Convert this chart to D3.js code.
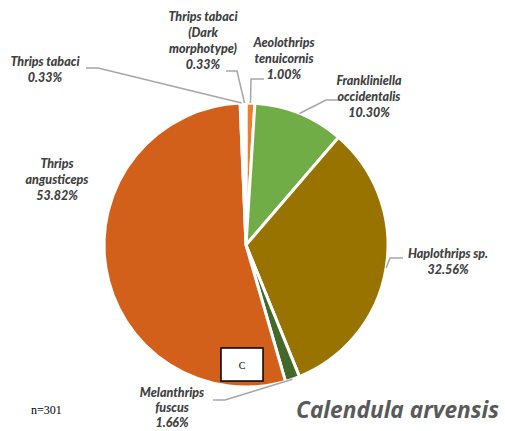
<!DOCTYPE html>
<html><head><meta charset="utf-8">
<script src="https://cdn.jsdelivr.net/npm/d3@7"></script>
<style>body{margin:0;background:#fff}svg{display:block}</style>
</head><body>
<script>
const species = ["Aeolothrips tenuicornis","Frankliniella occidentalis","Haplothrips sp.","Melanthrips fuscus","Thrips angusticeps","Thrips tabaci","Thrips tabaci (Dark morphotype)"];
const percents = [1.00, 10.30, 32.56, 1.66, 53.82, 0.33, 0.33];
const labelLines = [
  ["Aeolothrips","tenuicornis","1.00%"],
  ["Frankliniella","occidentalis","10.30%"],
  ["Haplothrips sp.","32.56%"],
  ["Melanthrips","fuscus","1.66%"],
  ["Thrips","angusticeps","53.82%"],
  ["Thrips tabaci","0.33%"],
  ["Thrips tabaci","(Dark","morphotype)","0.33%"]
];
const colors = ["#ED7D31","#70AD47","#997300","#43682B","#D2601A","#A5A5A5","#FFC000"];
// label layout: text center x, first baseline y, line height, elbow point, line start
const layout = [
  {x:284, y:47, lh:16, elbow:[251,79], start:[264,79]},
  {x:369, y:85, lh:16, elbow:[326,100], start:[340,100]},
  {x:448, y:258, lh:16, elbow:[390,258], start:[403,258]},
  {x:172, y:397, lh:15, elbow:[225,400], start:[213,400]},
  {x:57, y:168, lh:16, elbow:null, start:null},
  {x:45, y:66, lh:16, elbow:[98,68], start:[86,68]},
  {x:203, y:21, lh:16, elbow:[237,71], start:[226,71]}
];
const W=505,H=431, cx=246, cy=245, R=142;
const svg = d3.select("body").append("svg").attr("width",W).attr("height",H);
const data = species.map((s,i)=>({name:s, value:percents[i], i}));
const pie = d3.pie().sort(null).value(d=>d.value).startAngle(0).endAngle(2*Math.PI);
const arcs = pie(data);
const arc = d3.arc().innerRadius(0).outerRadius(R);
const g = svg.append("g").attr("transform",`translate(${cx},${cy})`);
g.selectAll("path").data(arcs).join("path")
  .attr("d",arc).attr("fill",d=>colors[d.data.i])
  .attr("stroke","#fff").attr("stroke-width",3).attr("stroke-linejoin","round");

// leader lines
arcs.forEach(a=>{
  const L = layout[a.data.i];
  if(!L.elbow) return;
  const m = (a.startAngle+a.endAngle)/2;
  const ax = cx + R*Math.sin(m), ay = cy - R*Math.cos(m);
  svg.append("polyline")
    .attr("points",[L.start, L.elbow, [ax,ay]].map(p=>p.join(",")).join(" "))
    .attr("fill","none").attr("stroke","#A6A6A6").attr("stroke-width",1.5);
});

// labels
labelLines.forEach((lines,i)=>{
  const L = layout[i];
  const t = svg.append("text").attr("text-anchor","middle")
    .attr("font-family","Lato, 'Open Sans', sans-serif").attr("font-weight","900")
    .attr("font-style","italic").attr("font-size",12.5).attr("fill","#404040");
  lines.forEach((ln,j)=>{
    t.append("tspan").attr("x",L.x).attr("y",L.y + j*L.lh).text(ln);
  });
});

// C box
svg.append("rect").attr("x",221).attr("y",348).attr("width",42).attr("height",33)
  .attr("fill","#fff").attr("stroke","#000").attr("stroke-width",1.5);
svg.append("text").attr("x",242).attr("y",369).attr("text-anchor","middle")
  .attr("font-family","'Liberation Serif', serif").attr("font-size",10).text("C");

svg.append("text").attr("x",31).attr("y",414).attr("font-family","'Liberation Serif', serif")
  .attr("font-size",12).attr("fill","#000").text("n=301");

svg.append("text").attr("x",296).attr("y",418).attr("font-family","'Open Sans', sans-serif")
  .attr("font-weight","bold").attr("font-style","italic").attr("font-size",22.7)
  .attr("fill","#595959").text("Calendula arvensis");
</script>
</body></html>
